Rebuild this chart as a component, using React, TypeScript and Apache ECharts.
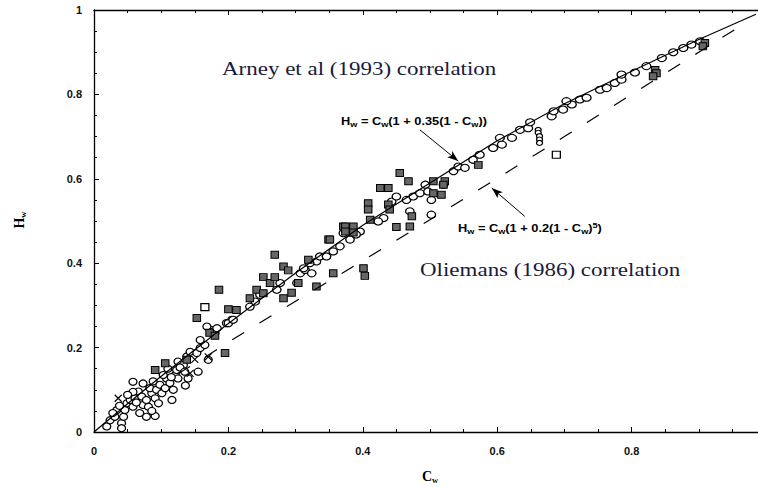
import React, { useEffect, useRef } from "react";
import * as echarts from "echarts";

// Arney et al (1993) correlation line
const arneyC = [0, 0.05, 0.1, 0.15, 0.2, 0.3, 0.4, 0.5, 0.6, 0.7, 0.8, 0.9, 0.985];
const arneyH = [0, 0.067, 0.132, 0.195, 0.257, 0.377, 0.49, 0.59, 0.69, 0.778, 0.855, 0.93, 0.99];

// Oliemans (1986) correlation line
const oliemansC = [0.125, 0.15, 0.2, 0.25, 0.3, 0.4, 0.5, 0.6, 0.7, 0.8, 0.9, 0.97];
const oliemansH = [0.138, 0.162, 0.213, 0.262, 0.31, 0.406, 0.503, 0.601, 0.7, 0.8, 0.9, 0.97];

// open circles (Cw, Hw)
const circlesLow: [number, number][] = [
  [0.019, 0.013], [0.024, 0.028], [0.031, 0.036], [0.034, 0.052], [0.041, 0.021], [0.041, 0.009],
  [0.044, 0.036], [0.046, 0.052], [0.049, 0.068], [0.054, 0.076], [0.058, 0.06], [0.061, 0.08],
  [0.066, 0.096], [0.071, 0.084], [0.073, 0.064], [0.058, 0.119], [0.073, 0.115], [0.081, 0.06],
  [0.078, 0.036], [0.091, 0.038], [0.078, 0.076], [0.086, 0.092], [0.083, 0.104], [0.091, 0.08],
  [0.093, 0.1], [0.098, 0.112], [0.096, 0.068], [0.101, 0.092], [0.106, 0.104], [0.108, 0.127],
  [0.113, 0.116], [0.116, 0.076], [0.118, 0.1], [0.121, 0.135], [0.123, 0.147], [0.125, 0.127],
  [0.125, 0.167], [0.133, 0.159], [0.138, 0.179], [0.143, 0.19], [0.14, 0.127], [0.153, 0.187],
  [0.155, 0.143], [0.158, 0.199], [0.165, 0.206], [0.17, 0.171], [0.173, 0.242], [0.168, 0.25],
  [0.18, 0.234], [0.197, 0.258], [0.205, 0.266], [0.063, 0.07], [0.068, 0.045], [0.086, 0.05],
  [0.088, 0.12], [0.103, 0.135], [0.11, 0.15], [0.128, 0.153], [0.135, 0.143], [0.115, 0.13],
  [0.058, 0.095], [0.05, 0.088], [0.038, 0.062], [0.028, 0.045], [0.136, 0.11], [0.158, 0.218],
];
const circlesMid: [number, number][] = [
  [0.178, 0.238], [0.183, 0.246], [0.2, 0.258], [0.207, 0.266], [0.232, 0.297], [0.24, 0.309],
  [0.247, 0.325], [0.272, 0.337], [0.277, 0.353], [0.302, 0.353], [0.307, 0.376], [0.314, 0.384],
  [0.324, 0.376], [0.331, 0.404], [0.336, 0.416], [0.346, 0.416], [0.356, 0.428], [0.371, 0.471],
  [0.312, 0.388], [0.321, 0.4], [0.443, 0.546], [0.431, 0.507], [0.423, 0.499], [0.45, 0.558],
  [0.465, 0.55], [0.475, 0.558], [0.485, 0.566], [0.493, 0.586], [0.497, 0.57], [0.502, 0.55],
  [0.47, 0.523], [0.502, 0.515], [0.52, 0.586], [0.535, 0.618], [0.542, 0.629], [0.552, 0.626],
  [0.564, 0.645], [0.396, 0.475], [0.381, 0.456], [0.366, 0.44], [0.39, 0.468],
];
const circlesHigh: [number, number][] = [
  [0.574, 0.657], [0.594, 0.673], [0.607, 0.681], [0.604, 0.697], [0.622, 0.697], [0.634, 0.716],
  [0.646, 0.72], [0.649, 0.734], [0.681, 0.748], [0.684, 0.76], [0.698, 0.764], [0.711, 0.776],
  [0.703, 0.784], [0.723, 0.788], [0.733, 0.792], [0.753, 0.811], [0.763, 0.815], [0.775, 0.827],
  [0.785, 0.835], [0.785, 0.847], [0.805, 0.852], [0.822, 0.867], [0.845, 0.886], [0.862, 0.9],
  [0.877, 0.91], [0.889, 0.918], [0.902, 0.926],
];
const smallCircles: [number, number][] = [
  [0.661, 0.716], [0.661, 0.709], [0.663, 0.701], [0.663, 0.693], [0.663, 0.685],
];
// dark (hatched) squares
const darkSquares: [number, number][] = [
  [0.153, 0.27], [0.195, 0.187], [0.106, 0.163], [0.091, 0.147], [0.138, 0.171], [0.186, 0.337],
  [0.2, 0.291], [0.212, 0.289], [0.232, 0.317], [0.242, 0.337], [0.252, 0.367], [0.269, 0.42],
  [0.262, 0.353], [0.269, 0.367], [0.282, 0.392], [0.289, 0.383], [0.294, 0.33], [0.282, 0.317],
  [0.304, 0.353], [0.331, 0.345], [0.356, 0.376], [0.349, 0.456], [0.371, 0.487], [0.319, 0.408],
  [0.455, 0.614], [0.468, 0.594], [0.426, 0.578], [0.438, 0.578], [0.408, 0.542], [0.408, 0.527],
  [0.438, 0.539], [0.44, 0.527], [0.411, 0.503], [0.374, 0.487], [0.386, 0.487], [0.374, 0.475],
  [0.386, 0.473], [0.351, 0.456], [0.45, 0.486], [0.505, 0.594], [0.517, 0.562], [0.505, 0.566],
  [0.401, 0.388], [0.403, 0.37], [0.522, 0.594], [0.473, 0.511], [0.47, 0.487], [0.572, 0.633],
  [0.52, 0.586], [0.835, 0.858], [0.837, 0.85], [0.832, 0.843], [0.909, 0.922], [0.906, 0.914],
  [0.172, 0.235], [0.18, 0.228], [0.252, 0.329],
];
const openSquares: [number, number][] = [[0.165, 0.296], [0.688, 0.657]];
const crosses: [number, number][] = [[0.036, 0.08], [0.15, 0.172], [0.143, 0.139], [0.17, 0.178]];

// annotation arrows (from, to)
const arneyArrow: [number, number][] = [[0.485, 0.716], [0.542, 0.642]];
const oliemansArrow: [number, number][] = [[0.641, 0.511], [0.592, 0.578]];

const axisTicks = { min: 0, max: 1, interval: 0.2 };

export default function App() {
  const ref = useRef<HTMLDivElement>(null);
  useEffect(() => {
    if (!ref.current) return;
    const chart = echarts.init(ref.current, null, { renderer: "svg" });
    const axisCommon = {
      type: "value" as const,
      min: axisTicks.min,
      max: axisTicks.max,
      interval: axisTicks.interval,
      axisLine: { show: true, onZero: false, lineStyle: { color: "#000", width: 1.3 } },
      axisTick: { show: true, inside: true, length: 5, lineStyle: { color: "#000", width: 1 } },
      minorTick: { show: true, splitNumber: 4, length: 3, lineStyle: { color: "#000", width: 1 } },
      splitLine: { show: false },
      minorSplitLine: { show: false },
    };
    const labelFont = { fontFamily: "Liberation Sans", fontWeight: "bold" as const, fontSize: 11, color: "#111" };
    const mainTok = { fontSize: 10.5, fontWeight: "bold", fontFamily: "Liberation Sans", fill: "#000", lineHeight: 14 };
    const subTok = { fontSize: 7.5, fontWeight: "bold", fontFamily: "Liberation Sans", fill: "#000", lineHeight: 8, verticalAlign: "bottom" };
    const supTok = { fontSize: 7.5, fontWeight: "bold", fontFamily: "Liberation Sans", fill: "#000", lineHeight: 8, verticalAlign: "top" };
    const zip = (a: number[], b: number[]) => a.map((v, i) => [v, b[i]]);
    chart.setOption({
      animation: false,
      grid: { left: 94, top: 10, right: 34, bottom: 55, containLabel: false },
      xAxis: [
        { ...axisCommon, position: "bottom", axisLabel: { ...labelFont, margin: 13, showMaxLabel: false } },
        { ...axisCommon, position: "top", axisLabel: { show: false } },
      ],
      yAxis: [
        { ...axisCommon, position: "left", axisLabel: { ...labelFont, margin: 12, padding: [6, 0, 0, 0] } },
      ],
      series: [
        {
          type: "scatter", data: circlesLow, symbol: "circle", symbolSize: [8, 7],
          itemStyle: { color: "#fff", borderColor: "#000", borderWidth: 1.2, opacity: 1 }, z: 3,
        },
        {
          type: "scatter", data: circlesMid, symbol: "circle", symbolSize: [8.5, 7],
          itemStyle: { color: "#fff", borderColor: "#000", borderWidth: 1.2, opacity: 1 }, z: 3,
        },
        {
          type: "scatter", data: circlesHigh, symbol: "circle", symbolSize: [9, 7],
          itemStyle: { color: "#fff", borderColor: "#000", borderWidth: 1.2, opacity: 1 }, z: 3,
        },
        {
          type: "scatter", data: smallCircles, symbol: "circle", symbolSize: [6, 5],
          itemStyle: { color: "#fff", borderColor: "#000", borderWidth: 1.2, opacity: 1 }, z: 3,
        },
        {
          type: "scatter", data: darkSquares, symbol: "rect", symbolSize: [7.5, 7],
          itemStyle: { color: "#666", borderColor: "#000", borderWidth: 1, opacity: 1 }, z: 3,
        },
        {
          type: "scatter", data: openSquares, symbol: "rect", symbolSize: [8, 7],
          itemStyle: { color: "#fff", borderColor: "#000", borderWidth: 1.2, opacity: 1 }, z: 3,
        },
        {
          type: "scatter", data: crosses, symbol: "path://M0,0L10,10M10,0L0,10", symbolSize: 7,
          itemStyle: { color: "none", borderColor: "#000", borderWidth: 1.2, opacity: 1 }, z: 3,
        },
        {
          type: "line", data: zip(arneyC, arneyH), showSymbol: false, symbol: "none", smooth: false,
          lineStyle: { color: "#000", width: 1.2 }, z: 4,
          markLine: {
            silent: true, animation: false, symbol: ["none", "arrow"], symbolSize: [6, 11],
            lineStyle: { color: "#000", width: 1, type: "solid" }, label: { show: false },
            data: [
              [{ coord: arneyArrow[0] }, { coord: arneyArrow[1] }],
              [{ coord: oliemansArrow[0] }, { coord: oliemansArrow[1] }],
            ],
          },
        },
        {
          type: "line", data: zip(oliemansC, oliemansH), showSymbol: false, symbol: "none",
          lineStyle: { color: "#000", width: 1.2, type: [14, 18] }, z: 4,
        },
      ],
      graphic: [
        {
          type: "text", x: 222, y: 68.6, scaleX: 1.21,
          style: { text: "Arney et al (1993) correlation", fontFamily: "Liberation Serif", fontSize: 19, fill: "#1a1a3c", align: "left", verticalAlign: "middle" },
        },
        {
          type: "text", x: 420, y: 269.6, scaleX: 1.21,
          style: { text: "Oliemans (1986) correlation", fontFamily: "Liberation Serif", fontSize: 19, fill: "#1a1a3c", align: "left", verticalAlign: "middle" },
        },
        {
          type: "text", x: 341, y: 121, scaleX: 1.22,
          style: {
            text: "{m|H}{s|w}{m| = C}{s|w}{m|(1 + 0.35(1 - C}{s|w}{m|))}",
            align: "left", verticalAlign: "middle",
            rich: { m: mainTok, s: subTok },
          },
        },
        {
          type: "text", x: 458, y: 228, scaleX: 1.22,
          style: {
            text: "{m|H}{s|w}{m| = C}{s|w}{m|(1 + 0.2(1 - C}{s|w}{m|)}{p|5}{m|)}",
            align: "left", verticalAlign: "middle",
            rich: { m: mainTok, s: subTok, p: supTok },
          },
        },
        {
          type: "text", x: 19, y: 220, rotation: Math.PI / 2,
          style: {
            text: "{m|H}{s|w}", align: "center", verticalAlign: "middle",
            rich: {
              m: { fontSize: 14, fontWeight: "bold", fontFamily: "Liberation Serif", fill: "#000", lineHeight: 16 },
              s: { fontSize: 8.5, fontWeight: "bold", fontFamily: "Liberation Serif", fill: "#000", lineHeight: 9, verticalAlign: "bottom" },
            },
          },
        },
        {
          type: "text", x: 422, y: 476,
          style: {
            text: "{m|C}{s|w}", align: "left", verticalAlign: "middle",
            rich: {
              m: { fontSize: 14, fontWeight: "bold", fontFamily: "Liberation Serif", fill: "#000", lineHeight: 16 },
              s: { fontSize: 8.5, fontWeight: "bold", fontFamily: "Liberation Serif", fill: "#000", lineHeight: 9, verticalAlign: "bottom" },
            },
          },
        },
      ],
    });
    return () => chart.dispose();
  }, []);
  return (
    <div style={{ position: "absolute", left: 0, top: 0, width: 758, height: 487, overflow: "hidden", background: "#fff" }}>
      <div ref={ref} style={{ position: "absolute", left: 0, top: 0, width: 800, height: 487 }} />
    </div>
  );
}
